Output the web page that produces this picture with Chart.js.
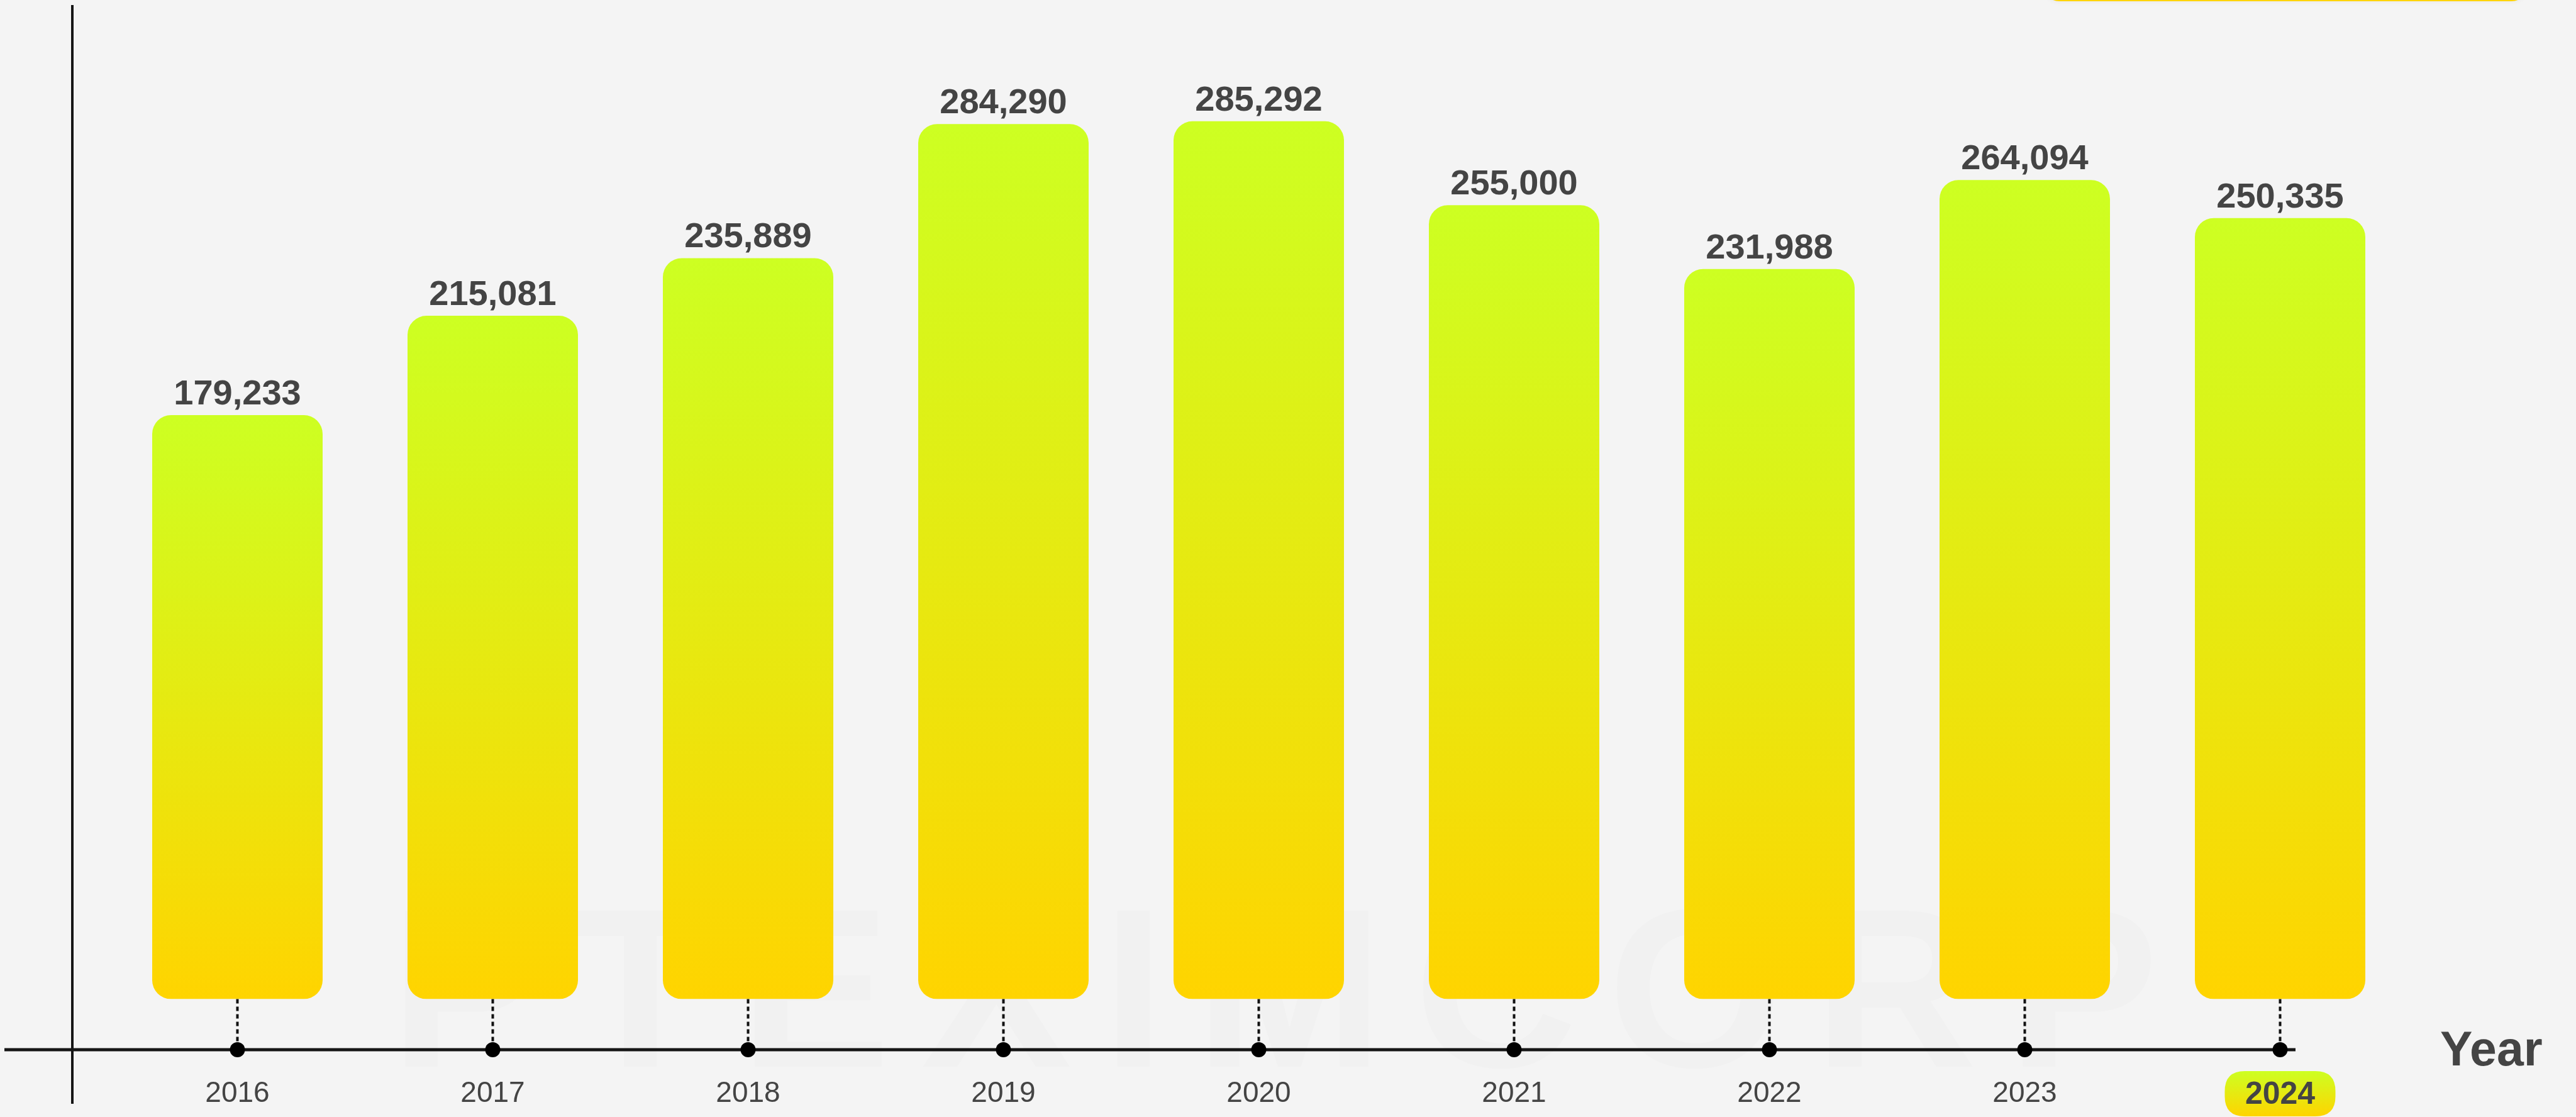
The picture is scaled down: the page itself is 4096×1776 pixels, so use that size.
<!DOCTYPE html>
<html>
<head>
<meta charset="utf-8">
<script src="https://cdn.jsdelivr.net/npm/chart.js@4/dist/chart.umd.min.js"></script>
<style>
  html, body { margin: 0; padding: 0; background: #f4f4f4; overflow: hidden; }
  #wrap { width: 4096px; height: 1776px; position: relative; }
  canvas { display: block; }
</style>
</head>
<body>
<div id="wrap"><canvas id="c" width="4096" height="1776"></canvas></div>
<script>
// ---- data ----
const years = ['2016', '2017', '2018', '2019', '2020', '2021', '2022', '2023', '2024'];
const volumes = [179233, 215081, 235889, 284290, 285292, 255000, 231988, 264094, 250335];
const highlightYear = '2024';
const axisTitle = 'Year';
const watermarkText = 'PTEXIMCORP';
const yMin = -31600;
const yMax = 320000;

// ---- style ----
const FONT = '"Liberation Sans", Arial, Helvetica, sans-serif';
const TEXT = '#444444';
const LIME = '#cdff22';
const GOLD = '#ffd400';
const AXIS_Y = 1669;

function vGrad(ctx, top, bottom) {
  const g = ctx.createLinearGradient(0, top, 0, bottom);
  g.addColorStop(0, LIME);
  g.addColorStop(1, GOLD);
  return g;
}

function roundRect(ctx, x, y, w, h, r) {
  ctx.beginPath();
  ctx.moveTo(x + r, y);
  ctx.lineTo(x + w - r, y);
  ctx.quadraticCurveTo(x + w, y, x + w, y + r);
  ctx.lineTo(x + w, y + h - r);
  ctx.quadraticCurveTo(x + w, y + h, x + w - r, y + h);
  ctx.lineTo(x + r, y + h);
  ctx.quadraticCurveTo(x, y + h, x, y + h - r);
  ctx.lineTo(x, y + r);
  ctx.quadraticCurveTo(x, y, x + r, y);
  ctx.closePath();
}

const decor = {
  id: 'decor',
  beforeDraw(chart) {
    const ctx = chart.ctx;
    ctx.save();
    ctx.fillStyle = '#f4f4f4';
    ctx.fillRect(0, 0, chart.width, chart.height);

    // faint watermark
    ctx.fillStyle = 'rgba(0,0,0,0.012)';
    ctx.font = 'bold 360px ' + FONT;
    ctx.textBaseline = 'alphabetic';
    ctx.textAlign = 'left';
    try { ctx.letterSpacing = '48px'; } catch (e) {}
    ctx.fillText(watermarkText, 620, 1696);
    try { ctx.letterSpacing = '0px'; } catch (e) {}

    // cut-off box at top right
    ctx.shadowColor = 'rgba(0,0,0,0.06)';
    ctx.shadowBlur = 10;
    ctx.fillStyle = '#ffd400';
    roundRect(ctx, 3255, -60, 758, 62, 20);
    ctx.fill();
    ctx.shadowBlur = 0;
    ctx.shadowColor = 'transparent';

    // highlight pill behind the highlighted year label
    const xs = chart.scales.x;
    const hi = years.indexOf(highlightYear);
    if (hi >= 0) {
      const cx = xs.getPixelForValue(hi);
      const w = 176, top = 1703, h = 72;
      ctx.fillStyle = vGrad(ctx, top, top + h);
      roundRect(ctx, cx - w / 2, top, w, h, 32);
      ctx.fill();
    }
    ctx.restore();
  },
  afterDatasetsDraw(chart) {
    const ctx = chart.ctx;
    const meta = chart.getDatasetMeta(0);
    ctx.save();

    // vertical axis line
    ctx.fillStyle = '#151515';
    ctx.fillRect(113, 8, 4, 1747);

    // dashed connectors
    ctx.strokeStyle = '#111111';
    ctx.lineWidth = 4;
    ctx.setLineDash([7, 5]);
    meta.data.forEach((el) => {
      ctx.beginPath();
      ctx.moveTo(el.x, el.base);
      ctx.lineTo(el.x, AXIS_Y - 10);
      ctx.stroke();
    });
    ctx.setLineDash([]);

    // horizontal axis line
    ctx.fillStyle = '#151515';
    ctx.fillRect(7, AXIS_Y - 2.5, 3643, 5);

    // dots
    ctx.fillStyle = '#000000';
    meta.data.forEach((el) => {
      ctx.beginPath();
      ctx.arc(el.x, AXIS_Y, 12, 0, Math.PI * 2);
      ctx.fill();
    });

    // value labels
    ctx.fillStyle = TEXT;
    ctx.font = 'bold 56px ' + FONT;
    ctx.textAlign = 'center';
    ctx.textBaseline = 'alphabetic';
    meta.data.forEach((el, i) => {
      ctx.fillText(volumes[i].toLocaleString('en-US'), el.x, el.y - 17);
    });

    // axis title
    ctx.font = 'bold 77px ' + FONT;
    ctx.textAlign = 'left';
    ctx.fillText(axisTitle, 3880, 1694);
    ctx.restore();
  }
};

new Chart(document.getElementById('c'), {
  type: 'bar',
  data: {
    labels: years,
    datasets: [{
      data: volumes,
      base: yMin,
      backgroundColor: (c) => {
        const chart = c.chart;
        const ys = chart.scales && chart.scales.y;
        if (!chart.chartArea || !ys || c.raw === undefined) return GOLD;
        const top = ys.getPixelForValue(c.raw);
        const bottom = ys.getPixelForValue(yMin);
        return vGrad(chart.ctx, top, bottom);
      },
      borderWidth: 0,
      borderRadius: 30,
      borderSkipped: false,
      barPercentage: 0.6675,
      categoryPercentage: 1.0
    }]
  },
  options: {
    responsive: false,
    animation: false,
    devicePixelRatio: 1,
    layout: { padding: { left: 174.5, right: 267.5, top: 40, bottom: 0 } },
    plugins: { legend: { display: false }, tooltip: { enabled: false } },
    scales: {
      x: {
        grid: { display: false, drawTicks: false },
        border: { display: false },
        afterFit: (s) => { s.height = 1776 - 1588.6; },
        ticks: {
          padding: 123,
          maxRotation: 0,
          autoSkip: false,
          color: TEXT,
          font: (c) => (years[c.index] === highlightYear
            ? { family: FONT, size: 50, weight: 'bold' }
            : { family: FONT, size: 46, weight: 'normal' })
        }
      },
      y: {
        display: false,
        min: yMin,
        max: yMax
      }
    }
  },
  plugins: [decor]
});
</script>
</body>
</html>
